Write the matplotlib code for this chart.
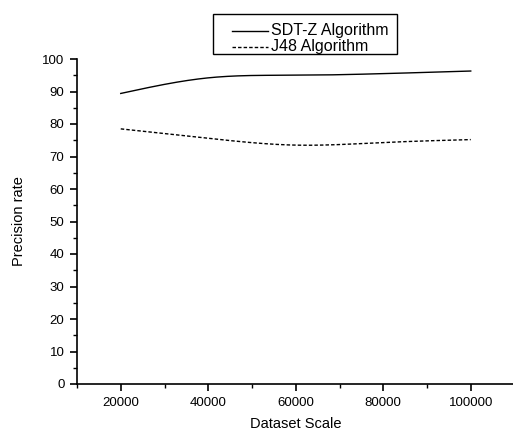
import numpy as np
import matplotlib
matplotlib.use("Agg")
import matplotlib.pyplot as plt
from matplotlib.ticker import MultipleLocator
from matplotlib.patches import Rectangle
from matplotlib.lines import Line2D

plt.rcParams['font.family'] = ['Liberation Sans', 'DejaVu Sans']

dataset_scale = [20000, 40000, 60000, 80000, 100000]
sdtz_precision = [89.4, 94.2, 95.0, 95.5, 96.3]
j48_precision = [78.5, 75.6, 73.5, 74.3, 75.2]
series_names = ['SDT-Z Algorithm', 'J48 Algorithm']


def natural_spline(x, y, n=300):
    x = np.asarray(x, float); y = np.asarray(y, float)
    k = len(x)
    h = np.diff(x)
    A = np.zeros((k, k)); b = np.zeros(k)
    A[0, 0] = 1; A[-1, -1] = 1
    for i in range(1, k - 1):
        A[i, i - 1] = h[i - 1]
        A[i, i] = 2 * (h[i - 1] + h[i])
        A[i, i + 1] = h[i]
        b[i] = 3 * ((y[i + 1] - y[i]) / h[i] - (y[i] - y[i - 1]) / h[i - 1])
    c = np.linalg.solve(A, b)
    xs = np.linspace(x[0], x[-1], n)
    ys = np.empty_like(xs)
    for j, xv in enumerate(xs):
        i = min(np.searchsorted(x, xv, side='right') - 1, k - 2)
        dx = xv - x[i]
        bi = (y[i + 1] - y[i]) / h[i] - h[i] * (2 * c[i] + c[i + 1]) / 3
        di = (c[i + 1] - c[i]) / (3 * h[i])
        ys[j] = y[i] + bi * dx + c[i] * dx ** 2 + di * dx ** 3
    return xs, ys


W, H = 513, 430
fig = plt.figure(figsize=(W / 100, H / 100), dpi=100)
ax = fig.add_axes([77 / W, 46 / H, 437.5 / W, 325 / H])

dash = (0, (2.5, 1.5))
xs, ys = natural_spline(dataset_scale, sdtz_precision)
ax.plot(xs, ys, color='black', lw=1.0, ls='-')
xs, ys = natural_spline(dataset_scale, j48_precision)
ax.plot(xs, ys, color='black', lw=1.0, ls=dash)

ax.set_xlim(10000, 110000)
ax.set_ylim(0, 100)
ax.xaxis.set_major_locator(MultipleLocator(20000))
ax.xaxis.set_minor_locator(MultipleLocator(10000))
ax.yaxis.set_major_locator(MultipleLocator(10))
ax.yaxis.set_minor_locator(MultipleLocator(5))
ax.spines['top'].set_visible(False)
ax.spines['right'].set_visible(False)
for s in ['left', 'bottom']:
    ax.spines[s].set_linewidth(1.2)
ax.tick_params(which='major', direction='out', length=5, width=1.2, labelsize=9.5, pad=4)
ax.tick_params(which='minor', direction='out', length=3, width=1.0)
ax.set_xlabel('Dataset Scale', fontsize=10.5, labelpad=6)
ax.set_ylabel('Precision rate', fontsize=10.5, labelpad=12)

# legend box (Origin style)
def px(x, y):
    return x / W, 1 - y / H

x0, y0 = px(213, 54)
x1, y1 = px(397, 14)
fig.patches.append(Rectangle((x0, y0), x1 - x0, y1 - y0, transform=fig.transFigure,
                             facecolor='white', edgecolor='black', lw=1.0, zorder=5))
styles = ['-', dash]
for k, (name, st) in enumerate(zip(series_names, styles)):
    yy = 31 + 16 * k
    a = px(232, yy); b = px(268, yy)
    fig.lines.append(Line2D([a[0], b[0]], [a[1], b[1]], transform=fig.transFigure,
                            color='black', lw=1.0, ls=st, zorder=6))
    t = px(271, yy)
    fig.text(t[0], t[1], name, fontsize=11.5, va='center', ha='left', zorder=6)

fig.savefig('out.png', dpi=100)
